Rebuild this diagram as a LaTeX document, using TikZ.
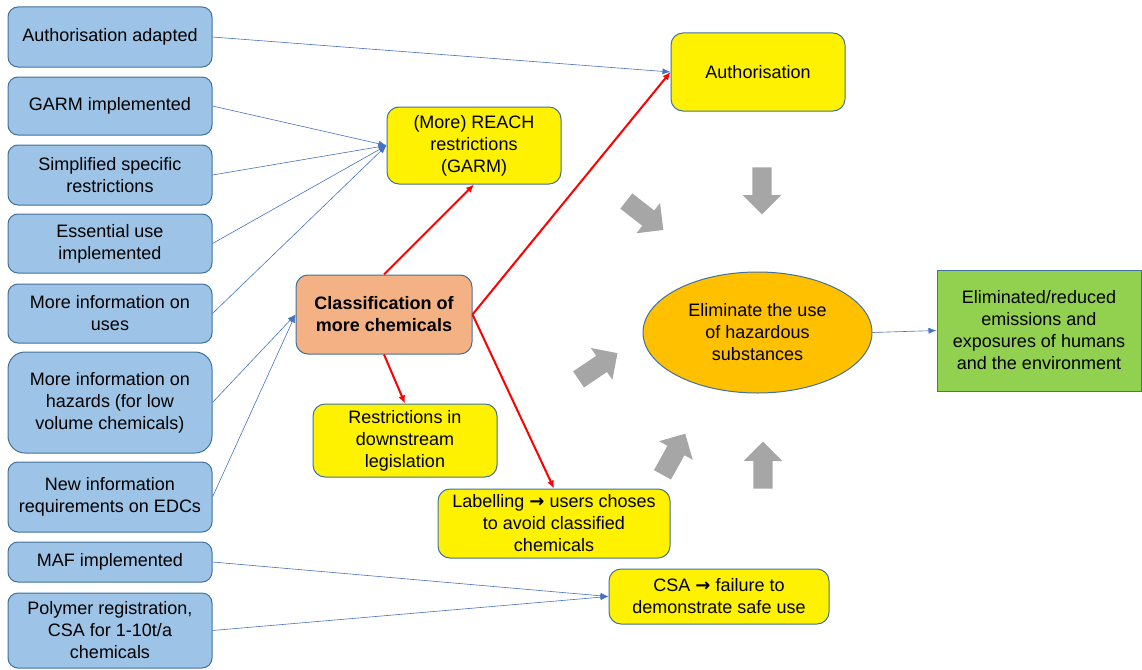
\documentclass[tikz,border=0pt]{standalone}
\usepackage{fontspec}
\setmainfont{Liberation Sans}
\newfontfamily\arrowfont{DejaVu Sans}
\usetikzlibrary{positioning,arrows.meta,shapes.geometric,shapes.arrows}

\definecolor{boxblue}{HTML}{9DC3E6}
\definecolor{boxline}{HTML}{41719C}
\definecolor{linkblue}{HTML}{4472C4}
\definecolor{classorange}{HTML}{F4B183}
\definecolor{goalorange}{HTML}{FFC000}
\definecolor{effectgreen}{HTML}{92D050}
\definecolor{pushgray}{HTML}{A6A6A6}

\tikzset{
  action/.style={draw=boxline, line width=1pt, fill=boxblue, rounded corners=10pt,
    minimum width=204pt, align=center, inner sep=0pt},
  outcome/.style={draw=boxline, line width=1pt, fill=yellow, rounded corners=12pt,
    align=center, inner sep=0pt},
  feed/.style={linkblue, line width=0.6pt, -{Latex[length=8pt,width=6pt]}},
  drive/.style={red, line width=2pt, -{Latex[length=8pt,width=7pt]}},
  push/.style={single arrow, fill=pushgray, minimum height=47pt, inner xsep=0pt,
    inner ysep=9.5pt, single arrow head extend=9.5pt},
}

\begin{document}
\begin{tikzpicture}[x=1pt, y=-1pt, font=\fontsize{18}{22}\selectfont]
    		\useasboundingbox (0,0) rectangle (1142,669);

    		% Left column: measures
    		\node[action, minimum height=60pt] (adapted) at (110,37) {Authorisation adapted};
    		\node[action, minimum height=58pt] (garm) at (110,106) {GARM implemented};
    		\node[action, minimum height=60pt] (simple) at (110,175) {Simplified specific\\restrictions};
    		\node[action, minimum height=59pt] (essential) at (110,243.5) {Essential use\\implemented};
    		\node[action, minimum height=59pt] (uses) at (110,313.5) {More information on\\uses};
    		\node[action, minimum height=101pt, rounded corners=17pt] (hazards) at (110,402.5) {More information on\\hazards (for low\\volume chemicals)};
    		\node[action, minimum height=70pt] (edc) at (110,497) {New information\\requirements on EDCs};
    		\node[action, minimum height=40pt] (maf) at (110,562) {MAF implemented};
    		\node[action, minimum height=75pt] (polymer) at (110,630.5) {Polymer registration,\\CSA for 1-10t/a\\chemicals};

    		% Middle: instruments
    		\node[outcome, minimum width=174pt, minimum height=77pt] (reach) at (474,145.5) {(More) REACH\\restrictions\\(GARM)};
    		\node[outcome, minimum width=174pt, minimum height=78pt] (auth) at (758,72) {Authorisation};
    		\node[draw=boxline, line width=1pt, fill=classorange, rounded corners=12pt,
    		      minimum width=176pt, minimum height=79pt, align=center,
    		      font=\fontsize{18}{22}\selectfont\bfseries] (class) at (384,314.5) {Classification of\\more chemicals};
    		\node[outcome, minimum width=184pt, minimum height=73pt] (downstream) at (405,440.5) {Restrictions in\\downstream\\legislation};
    		\node[outcome, minimum width=232pt, minimum height=69pt] (label) at (554,523.5) {Labelling {\arrowfont\bfseries →} users choses\\to avoid classified\\chemicals};
    		\node[outcome, minimum width=220pt, minimum height=55pt] (csa) at (719,596.5) {CSA {\arrowfont\bfseries →} failure to\\demonstrate safe use};

    		% Goal and effect
    		\node[ellipse, draw=boxline, line width=1pt, fill=goalorange, minimum width=229pt,
    		      minimum height=121pt, inner sep=0pt, align=center] (goal) at (757.5,332.5) {Eliminate the use\\of hazardous\\substances};
    		\node[draw=boxline, line width=1pt, fill=effectgreen, minimum width=204pt,
    		      minimum height=121pt, align=center] (effect) at (1039,330.5) {Eliminated/reduced\\emissions and\\exposures of humans\\and the environment};

    		% Gray arrows round the goal
    		\node[push, rotate=-90] (pushtop) at (762,186) {};
    		\node[push, rotate=-38] (pushtl) at (641,212.5) {};
    		\node[push, rotate=34] (pushleft) at (594,369) {};
    		\node[push, rotate=61] (pushbl) at (671.5,458.5) {};
    		\node[push, rotate=90] (pushbottom) at (763,470) {};

    		% Blue links
    		\draw[feed] (adapted.east) -- (auth.west);
    		\draw[feed] (garm.east) -- (reach.west);
    		\draw[feed] (simple.east) -- (reach.west);
    		\draw[feed] (essential.east) -- (reach.west);
    		\draw[feed] (uses.east) -- (reach.west);
    		\draw[feed] (hazards.east) -- (class.west);
    		\draw[feed] (edc.east) -- (class.west);
    		\draw[feed] (maf.east) -- (csa.west);
    		\draw[feed] (polymer.east) -- (csa.west);
    		\draw[feed] (goal.east) -- (effect.west);

    		% Red links from classification
    		\draw[drive] (class.north) -- (reach.south);
    		\draw[drive] (class.east) -- (auth.west);
    		\draw[drive] (class.east) -- (label.north);
    		\draw[drive] (class.south) -- (downstream.north);
\end{tikzpicture}
\end{document}
